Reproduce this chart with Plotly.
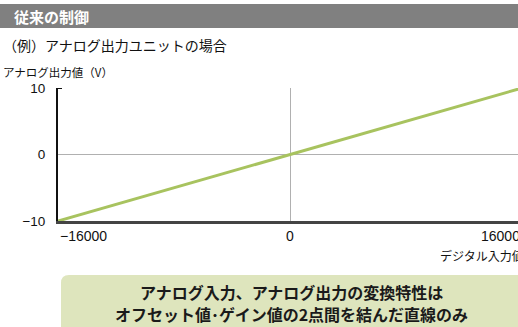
import plotly.graph_objects as go

W, H = 518, 327
# plot area pixels
PL, PR, PT, PB = 58, 518, 88, 221

# data
digital_in = [-16000, 16000]
analog_out = [-10, 10]
x_ticks = [-16000, 0, 16000]
x_tick_labels = ["\u221216000", "0", "16000"]
y_ticks = [-10, 0, 10]
y_tick_labels = ["\u221210", "0", "10"]

title_text = "従来の制御"
subtitle_text = "（例）アナログ出力ユニットの場合"
y_title = "アナログ出力値（V）"
x_title = "デジタル入力値"
note_lines = ["アナログ入力、アナログ出力の変換特性は",
              "オフセット値･ゲイン値の2点間を結んだ直線のみ"]

FONT = "Liberation Sans, Arial, Noto Sans CJK JP, sans-serif"
JFONT = "Noto Sans CJK JP, Liberation Sans, sans-serif"

# x range so that 0 sits at pixel 290
x0 = -16000
x1 = 16000 * (PR - 290) / (290 - PL)


def px(xp):
    return (xp - PL) / (PR - PL)


def py(yp):
    return (PB - yp) / (PB - PT)


def xd2paper(v):
    return (v - x0) / (x1 - x0)


fig = go.Figure()
fig.add_trace(go.Scatter(x=digital_in, y=analog_out, mode="lines",
                         line=dict(color="#a8c35f", width=3),
                         hoverinfo="skip", showlegend=False))

fig.update_layout(
    width=W, height=H,
    margin=dict(l=PL, r=W - PR, t=PT, b=H - PB, pad=0),
    paper_bgcolor="white", plot_bgcolor="white",
    font=dict(family=FONT, size=14, color="#111"),
    xaxis=dict(range=[x0, x1], showgrid=False, zeroline=True,
               zerolinecolor="#b0b0b0", zerolinewidth=1,
               showline=True, linecolor="#444", linewidth=2.5,
               showticklabels=False, ticks="", fixedrange=True),
    yaxis=dict(range=[-10, 10], showgrid=False, zeroline=True,
               zerolinecolor="#b0b0b0", zerolinewidth=1,
               showline=True, linecolor="#111", linewidth=2,
               tickvals=y_ticks, ticktext=y_tick_labels, ticks="",
               tickfont=dict(family=FONT, size=13.5, color="#111"),
               ticklabelstandoff=8, fixedrange=True),
)

shapes = []
# header bar
shapes.append(dict(type="rect", xref="paper", yref="paper",
                   x0=px(0), x1=px(W + 5), y0=py(28), y1=py(4),
                   fillcolor="#808080", line=dict(width=0), layer="below"))
# small tick at top of y axis
shapes.append(dict(type="line", xref="paper", yref="y",
                   x0=px(58), x1=px(62), y0=10, y1=10,
                   line=dict(color="#111", width=2)))
# note box (rounded)
bx0, bx1, by0, by1, r = px(61), px(540), py(275), py(340), 8
rx = r / (PR - PL)
ry = r / (PB - PT)
path = (f"M {bx0+rx},{by0} L {bx1},{by0} L {bx1},{by1} L {bx0},{by1} "
        f"L {bx0},{by0-ry} Q {bx0},{by0} {bx0+rx},{by0} Z")
shapes.append(dict(type="path", xref="paper", yref="paper", path=path,
                   fillcolor="#dee5bd", line=dict(width=0), layer="below"))
fig.update_layout(shapes=shapes)

ann = []
ann.append(dict(text=f"<b>{title_text}</b>", xref="paper", yref="paper",
                x=px(12), y=py(16), xanchor="left", yanchor="middle",
                showarrow=False, font=dict(family=JFONT, size=15, color="white")))
ann.append(dict(text=subtitle_text, xref="paper", yref="paper",
                x=px(1), y=py(45), xanchor="left", yanchor="middle",
                showarrow=False, font=dict(family=JFONT, size=14, color="#111")))
ann.append(dict(text=y_title, xref="paper", yref="paper",
                x=px(1), y=py(72), xanchor="left", yanchor="middle",
                showarrow=False, font=dict(family=JFONT, size=11.5, color="#111")))
# x tick labels
anchors = ["left", "center", "right"]
for v, t, a in zip(x_ticks, x_tick_labels, anchors):
    ann.append(dict(text=t, xref="paper", yref="paper",
                    x=xd2paper(v), y=py(236), xanchor=a, yanchor="middle",
                    showarrow=False, font=dict(family=FONT, size=14, color="#111")))
ann.append(dict(text=x_title, xref="paper", yref="paper",
                x=px(526), y=py(255), xanchor="right", yanchor="middle",
                showarrow=False, font=dict(family=JFONT, size=12, color="#111")))
for line, yy in zip(note_lines, [292, 314]):
    ann.append(dict(text=f"<b>{line}</b>", xref="paper", yref="paper",
                    x=px(291), y=py(yy), xanchor="center", yanchor="middle",
                    showarrow=False, align="center",
                    font=dict(family=JFONT, size=16, color="#1a1a1a")))
fig.update_layout(annotations=ann)

fig.write_html("out.html", config={"displayModeBar": False},
               post_script="document.body.style.margin='0px';")
